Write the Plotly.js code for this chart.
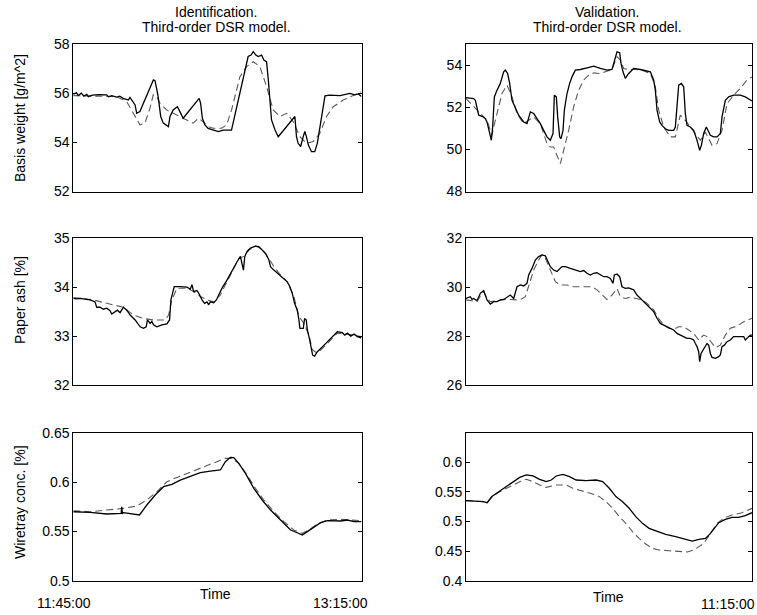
<!DOCTYPE html>
<html>
<head>
<meta charset="utf-8">
<script src="https://cdn.plot.ly/plotly-3.0.1.min.js"></script>
<style>
  html, body { margin: 0; padding: 0; background: #fff; }
  #chart { width: 757px; height: 615px; }
</style>
</head>
<body>
<div id="chart"></div>
<script>
// ---------- Titles and labels ----------
const columnTitles = [["Identification.", "Third-order DSR model."], ["Validation.", "Third-order DSR model."]];
const rowLabels = ["Basis weight [g/m^2]", "Paper ash [%]", "Wiretray conc. [%]"];
const xAxisLabel = "Time";
const idTimeTickLabels = ["11:45:00", "13:15:00"];
const valTimeTickLabels = ["11:15:00"];

// ---------- Y ticks ----------
const bwIdTicks = [52, 54, 56, 58];
const bwValTicks = [48, 50, 52, 54];
const ashIdTicks = [32, 33, 34, 35];
const ashValTicks = [26, 28, 30, 32];
const wtIdTicks = [0.5, 0.55, 0.6, 0.65];
const wtValTicks = [0.4, 0.45, 0.5, 0.55, 0.6];

// ---------- Identification: basis weight (time in minutes from start) ----------
const idBwMeasT = [0,1,1.5,2.5,3.3,4.2,4.7,6,8,10.4,11,12,13.5,14.5,15.6,16.4,17.2,17.7,18.7,19.3,19.8,20.8,25.0,25.5,26.0,26.5,27.3,28.1,29.7,30.2,31.2,31.7,32.5,33.3,34.3,39.3,39.75,40.3,41.1,42.1,43.7,45.3,46.8,49.4,54.6,55.5,56.2,57.0,57.75,58.8,59.5,60.35,60.9,61.4,61.9,63.0,64.0,69.2,69.7,70.2,71.0,71.8,72.3,72.8,73.4,74.4,75.4,76.2,77.0,77.8,78.6,80,83.3,85,86.4,87.9,89,90];
const idBwMeas = [55.95,56.02,55.9,56.0,55.88,55.95,55.86,55.92,55.94,55.93,55.85,55.9,55.84,55.88,55.79,55.74,55.72,55.83,55.66,55.52,55.18,55.25,56.54,56.51,56.2,55.86,55.05,54.78,54.64,55.05,55.32,55.38,55.45,55.25,54.98,55.79,55.59,54.98,54.71,54.57,54.5,54.44,54.5,54.5,57.49,57.55,57.69,57.55,57.49,57.55,57.35,57.28,56.54,55.86,54.91,54.5,54.23,55.05,54.23,53.96,53.83,54.23,54.44,54.23,53.89,53.62,53.62,53.96,54.64,55.32,55.89,55.92,55.9,55.95,55.99,55.93,55.97,55.86];
const idBwModT = [0,13.53,16.65,18.21,19.77,20.81,22.37,23.93,24.97,26.01,27.06,29.14,31.22,33.30,35.38,37.46,39.02,40.58,42.14,43.70,46.31,47.87,49.43,52.03,54.11,56.19,58.27,60.35,62.43,64.52,66.60,68.68,70.76,72.84,74.92,77.00,79.08,81.17,84.29,87.41,90];
const idBwMod = [55.90,55.86,55.66,55.32,54.98,54.71,54.78,55.38,55.93,55.86,55.59,55.32,55.18,55.05,54.91,54.78,54.98,54.84,54.64,54.57,54.57,54.71,55.32,56.67,57.08,57.28,57.08,56.27,55.32,55.05,55.18,54.84,54.23,53.96,54.03,54.37,55.05,55.45,55.72,55.90,56.06];

// ---------- Validation: basis weight ----------
const valBwMeasT = [0,0.84,2.41,2.94,3.46,3.99,5.04,6.08,6.61,7.13,7.66,7.97,8.39,8.92,9.55,10.28,10.80,11.85,12.38,13.11,13.74,14.48,15.52,16.57,18.14,19.20,20.25,21.30,22.34,23.39,24.44,25.49,26.54,27.38,27.80,28.43,28.85,29.48,29.90,30.53,30.95,31.79,32.62,33.36,34.41,35.98,38.08,40.18,42.27,44.37,45.94,46.68,47.52,48.36,48.78,49.41,50.14,51.19,52.76,54.86,56.96,58.01,59.06,59.58,60.11,60.95,61.68,62.73,63.78,65.35,65.88,66.40,66.93,67.77,68.50,69.02,69.55,70.60,71.65,72.70,73.54,74.06,74.79,75.63,76.16,76.89,77.94,78.99,80.04,80.56,81.61,82.66,84.23,86.33,87.90,89.48,90];
const valBwMeas = [52.46,52.44,52.41,52.33,51.94,51.62,51.57,51.46,51.30,50.98,50.67,50.43,51.06,52.49,52.73,52.97,53.13,53.68,53.76,53.60,53.13,52.33,51.94,51.62,51.30,51.22,51.78,51.70,51.46,51.22,50.90,50.59,50.43,50.75,52.57,52.49,51.54,50.59,50.51,50.90,51.86,52.65,53.13,53.44,53.76,53.79,53.87,53.95,53.84,53.76,53.79,54.16,54.63,54.59,54.08,53.68,53.37,53.60,53.84,53.79,53.73,53.68,53.29,52.81,51.86,51.30,51.14,50.98,50.90,50.90,51.06,51.97,53.05,53.13,52.97,51.70,51.14,51.06,50.90,50.43,49.95,50.19,50.75,51.06,50.90,50.67,50.59,50.59,50.75,51.54,52.33,52.49,52.57,52.57,52.49,52.33,52.30];
const valBwModT = [0,3.46,5.04,6.61,7.66,8.18,8.71,9.76,11.33,12.90,14.48,16.05,18.14,19.72,21.30,23.39,25.49,26.54,27.59,28.64,29.69,30.74,32.31,33.88,35.46,37.03,38.60,40.18,41.75,43.85,45.94,47.52,48.57,49.62,51.19,53.29,55.39,58.01,59.58,60.63,62.21,64.30,65.88,67.45,69.02,70.60,72.17,73.74,75.32,77.42,78.99,80.56,82.14,84.23,86.33,88.43,90];
const valBwMod = [52.41,51.86,51.62,51.38,50.90,50.67,51.06,51.70,52.65,53.05,52.49,51.70,51.22,51.38,51.54,51.22,50.27,50.11,50.11,49.71,49.32,49.95,50.90,52.02,52.81,53.29,53.52,53.63,53.60,53.68,53.79,54.40,54.24,53.84,53.79,53.79,53.76,53.60,52.97,51.86,51.06,50.59,50.59,51.62,51.38,51.06,50.75,50.43,50.83,50.19,50.27,50.90,52.17,52.57,52.89,53.29,53.44];

// ---------- Identification: paper ash ----------
const idAshMeasT = [0,1.04,2.09,5.22,6.78,7.31,8.35,9.39,10.44,11.48,12.00,13.05,13.78,14.61,15.66,16.70,17.75,19.31,20.88,21.92,22.76,23.17,24.01,24.53,25.05,26.10,27.66,29.23,30.06,30.48,31.00,31.52,33.40,35.49,36.53,37.06,37.58,38.62,39.14,40.19,41.02,41.75,42.28,42.80,43.84,44.68,45.41,46.45,48.02,49.58,51.15,52.19,52.61,53.13,53.55,54.28,55.32,56.89,57.93,58.98,60.02,61.06,61.59,62.63,64.20,65.76,66.81,67.64,68.37,69.10,69.94,70.46,70.77,71.82,72.23,72.76,73.07,73.70,74.32,74.74,75.37,76.20,77.77,79.85,81.94,82.46,84.03,84.76,85.59,86.64,87.68,88.73,90];
const idAshMeas = [33.77,33.76,33.77,33.74,33.70,33.59,33.59,33.55,33.57,33.52,33.45,33.50,33.53,33.48,33.59,33.53,33.43,33.33,33.19,33.16,33.19,33.33,33.26,33.30,33.23,33.19,33.23,33.25,33.33,33.74,33.88,34.01,34.01,34.00,33.96,34.05,33.91,33.93,33.88,33.74,33.67,33.70,33.64,33.70,33.68,33.74,33.84,33.98,34.15,34.35,34.52,34.63,34.49,34.35,34.63,34.73,34.80,34.84,34.83,34.76,34.69,34.56,34.42,34.35,34.26,34.18,34.11,34.01,33.88,33.67,33.53,33.33,33.16,33.16,33.36,33.33,33.13,32.96,32.75,32.61,32.59,32.68,32.78,32.92,33.06,33.09,33.07,33.02,33.06,33.00,33.04,32.99,32.96];
const idAshModT = [0,6.26,10.44,15.66,18.79,21.92,25.05,28.71,29.75,30.79,32.36,35.49,37.58,39.67,41.75,43.84,45.93,48.02,50.10,51.67,53.24,54.80,56.89,58.98,61.06,62.63,64.72,66.81,68.89,70.46,72.03,73.59,74.63,76.20,78.29,80.38,82.46,85.59,90];
const idAshMod = [33.79,33.74,33.67,33.59,33.43,33.36,33.33,33.33,33.43,33.74,33.98,33.98,33.91,33.81,33.74,33.70,33.84,34.11,34.39,34.59,34.63,34.76,34.84,34.78,34.59,34.42,34.25,34.11,33.81,33.40,33.26,33.02,32.72,32.65,32.78,32.92,33.06,33.04,32.99];

// ---------- Validation: paper ash ----------
const valAshMeasT = [0,1.36,1.89,2.41,3.46,3.99,4.51,5.56,6.08,6.61,7.66,8.71,9.76,10.80,11.85,12.90,13.95,15.00,16.05,17.10,18.15,19.20,19.72,20.77,21.82,22.87,23.92,24.97,25.49,26.54,27.59,28.64,30.21,31.26,32.83,34.93,35.98,37.03,38.08,39.13,40.18,41.22,42.27,43.32,44.37,45.42,46.26,46.68,47.52,48.36,49.09,50.14,51.19,52.76,53.81,54.86,55.91,56.96,58.01,59.06,60.11,61.16,62.21,63.25,64.30,65.35,66.40,67.45,68.50,69.55,70.60,71.65,72.17,72.70,73.22,73.54,73.96,74.59,75.32,75.84,76.37,76.89,77.42,78.46,79.51,80.04,80.56,81.30,82.14,83.18,84.23,85.28,86.33,87.38,87.90,88.43,89.48,90];
const valAshMeas = [29.54,29.61,29.50,29.54,29.45,29.61,29.75,29.86,29.68,29.48,29.31,29.41,29.41,29.48,29.50,29.59,29.68,29.54,30.02,30.09,30.05,30.16,30.50,30.77,31.11,31.25,31.32,31.28,31.11,30.84,30.70,30.64,30.84,30.84,30.77,30.70,30.64,30.68,30.57,30.50,30.57,30.59,30.50,30.43,30.43,30.36,30.16,30.50,30.54,30.43,30.02,29.95,29.97,29.89,29.68,29.54,29.41,29.27,29.13,29.00,28.73,28.52,28.45,28.38,28.32,28.25,28.11,28.04,27.98,27.91,27.91,27.84,27.70,27.57,27.36,26.95,27.29,27.43,27.57,27.70,27.63,27.29,27.13,27.09,27.16,27.23,27.57,27.63,27.77,27.84,27.98,27.98,27.95,27.98,27.84,27.91,28.04,28.04];
const valAshModT = [0,3.46,4.51,5.56,6.61,7.66,9.76,12.90,16.05,17.62,18.67,19.72,21.29,22.87,23.92,24.97,26.54,28.11,29.69,31.78,33.88,35.98,38.08,39.65,41.22,42.80,44.37,45.95,47.52,48.57,50.14,51.72,53.81,55.39,56.96,59.06,60.63,62.21,63.78,65.35,66.93,68.50,70.07,71.65,73.22,74.79,75.84,77.42,78.46,80.04,81.61,83.18,85.28,87.38,90];
const valAshMod = [29.48,29.41,29.64,29.82,29.54,29.41,29.45,29.50,29.48,29.53,29.61,30.09,30.70,31.11,31.32,31.18,30.70,30.23,30.09,30.09,30.02,30.02,29.99,30.02,29.89,29.68,29.50,29.68,29.95,29.61,29.54,29.59,29.54,29.48,29.34,29.07,28.73,28.45,28.32,28.28,28.38,28.38,28.25,28.11,27.84,28.04,27.98,27.73,27.53,27.63,28.04,28.32,28.41,28.59,28.73];

// ---------- Identification: wiretray consistency ----------
const idWtMeasT = [0,5.22,10.44,14.61,14.93,15.14,15.34,15.66,17.75,20.67,22.96,25.57,28.18,30.79,33.40,36.53,39.67,42.80,45.93,47.49,49.06,50.10,51.67,53.76,56.37,58.98,61.59,64.72,67.85,69.94,71.50,73.07,75.16,77.24,79.33,81.42,83.51,85.59,87.68,90];
const idWtMeas = [0.5699,0.5693,0.5676,0.5682,0.5682,0.5750,0.5682,0.5689,0.5682,0.5666,0.5767,0.5868,0.5953,0.5976,0.6020,0.6061,0.6095,0.6111,0.6122,0.6206,0.6250,0.6247,0.6189,0.6088,0.5936,0.5818,0.5716,0.5615,0.5514,0.5486,0.5463,0.5497,0.5547,0.5588,0.5608,0.5608,0.5605,0.5615,0.5598,0.5598];
const idWtModT = [0,5.22,10.44,15.66,19.83,22.96,26.10,29.23,32.36,35.49,38.62,41.75,44.89,47.49,49.58,51.67,54.28,56.89,59.50,62.63,65.76,68.89,71.50,73.59,76.20,79.33,83.51,87.68,90];
const idWtMod = [0.5709,0.5699,0.5716,0.5733,0.5757,0.5818,0.5902,0.6003,0.6047,0.6088,0.6122,0.6162,0.6206,0.6240,0.6240,0.6189,0.6071,0.5936,0.5818,0.5699,0.5598,0.5514,0.5480,0.5514,0.5574,0.5615,0.5622,0.5615,0.5608];

// ---------- Validation: wiretray consistency ----------
const valWtMeasT = [0,3.34,5.43,6.68,8.04,10.65,12.73,14.82,16.91,19.00,21.09,23.17,25.26,26.83,28.39,30.48,32.57,34.66,37.79,40.92,43.01,45.09,47.18,49.27,51.36,53.44,55.53,57.62,59.71,62.84,65.97,69.10,71.19,73.28,75.37,76.93,78.50,79.54,81.63,83.72,85.80,87.89,90];
const valWtMeas = [0.5352,0.5346,0.5335,0.5318,0.5420,0.5515,0.5589,0.5673,0.5746,0.5786,0.5769,0.5713,0.5673,0.5701,0.5769,0.5797,0.5758,0.5701,0.5690,0.5701,0.5673,0.5561,0.5420,0.5335,0.5223,0.5082,0.4969,0.4885,0.4839,0.4783,0.4744,0.4699,0.4670,0.4699,0.4715,0.4800,0.4913,0.4980,0.5037,0.5070,0.5070,0.5099,0.5149];
const valWtModT = [0,5.43,6.68,8.56,10.65,13.78,16.91,19.00,21.09,23.17,25.26,28.39,31.52,33.61,36.74,39.87,41.96,44.05,46.14,48.23,50.31,52.40,54.49,56.58,58.66,60.75,63.88,67.01,69.62,71.71,73.28,74.84,76.93,79.02,81.11,83.72,86.85,90];
const valWtMod = [0.5352,0.5335,0.5318,0.5431,0.5504,0.5589,0.5673,0.5713,0.5673,0.5617,0.5577,0.5617,0.5617,0.5561,0.5515,0.5465,0.5420,0.5335,0.5223,0.5082,0.4969,0.4828,0.4715,0.4620,0.4546,0.4518,0.4507,0.4490,0.4485,0.4518,0.4575,0.4631,0.4800,0.4969,0.5054,0.5110,0.5149,0.5223];

// ---------- Build ----------
const FONT = "Liberation Sans, Arial, Helvetica, sans-serif";
const W = 757, H = 615;
function measTrace(x, y, ax) {
  return {x: x, y: y, xaxis: 'x' + ax, yaxis: 'y' + ax, type: 'scatter', mode: 'lines',
    line: {color: '#000', width: 1.3}, hoverinfo: 'skip', showlegend: false};
}
function modTrace(x, y, ax) {
  return {x: x, y: y, xaxis: 'x' + ax, yaxis: 'y' + ax, type: 'scatter', mode: 'lines',
    line: {color: '#5a5a5a', width: 1.1, dash: '7px,4px'}, hoverinfo: 'skip', showlegend: false};
}
const traces = [
  modTrace(idBwModT, idBwMod, ''), measTrace(idBwMeasT, idBwMeas, ''),
  modTrace(valBwModT, valBwMod, '2'), measTrace(valBwMeasT, valBwMeas, '2'),
  modTrace(idAshModT, idAshMod, '3'), measTrace(idAshMeasT, idAshMeas, '3'),
  modTrace(valAshModT, valAshMod, '4'), measTrace(valAshMeasT, valAshMeas, '4'),
  modTrace(idWtModT, idWtMod, '5'), measTrace(idWtMeasT, idWtMeas, '5'),
  modTrace(valWtModT, valWtMod, '6'), measTrace(valWtMeasT, valWtMeas, '6')
];

// pixel boxes of the six frames
const colX = [[73.3, 361.5], [466, 752]];
const rowY = [[44, 191.5], [238.3, 385], [432.7, 580.7]];
const xDom = c => [colX[c][0] / W, colX[c][1] / W];
const yDom = r => [1 - rowY[r][1] / H, 1 - rowY[r][0] / H];

function xAxis(c, r) {
  return {domain: xDom(c), anchor: null, range: [0, 90], showticklabels: false, ticks: '',
    showline: true, mirror: true, linecolor: '#000', linewidth: 1, showgrid: false, zeroline: false, fixedrange: true};
}
function yAxis(c, r, range, ticks) {
  return {domain: yDom(r), range: range, tickmode: 'array', tickvals: ticks, ticks: 'inside', ticklen: 4,
    tickcolor: '#000', tickwidth: 1, showline: true, mirror: 'ticks', linecolor: '#000', linewidth: 1,
    showgrid: false, zeroline: false, tickfont: {family: FONT, size: 14, color: '#000'}, fixedrange: true};
}
const layout = {
  width: W, height: H, margin: {l: 0, r: 0, t: 0, b: 0}, paper_bgcolor: '#fff', plot_bgcolor: '#fff',
  font: {family: FONT, size: 14, color: '#000'}, showlegend: false,
  xaxis: Object.assign(xAxis(0, 0), {anchor: 'y'}),
  yaxis: Object.assign(yAxis(0, 0, [52, 58], bwIdTicks), {anchor: 'x'}),
  xaxis2: Object.assign(xAxis(1, 0), {anchor: 'y2'}),
  yaxis2: Object.assign(yAxis(1, 0, [48, 55], bwValTicks), {anchor: 'x2'}),
  xaxis3: Object.assign(xAxis(0, 1), {anchor: 'y3'}),
  yaxis3: Object.assign(yAxis(0, 1, [32, 35], ashIdTicks), {anchor: 'x3'}),
  xaxis4: Object.assign(xAxis(1, 1), {anchor: 'y4'}),
  yaxis4: Object.assign(yAxis(1, 1, [26, 32], ashValTicks), {anchor: 'x4'}),
  xaxis5: Object.assign(xAxis(0, 2), {anchor: 'y5'}),
  yaxis5: Object.assign(yAxis(0, 2, [0.5, 0.65], wtIdTicks), {anchor: 'x5'}),
  xaxis6: Object.assign(xAxis(1, 2), {anchor: 'y6'}),
  yaxis6: Object.assign(yAxis(1, 2, [0.4, 0.65], wtValTicks), {anchor: 'x6'}),
  annotations: []
};
function note(text, px, py, angle) {
  layout.annotations.push({text: text, xref: 'paper', yref: 'paper', x: px / W, y: 1 - py / H,
    xanchor: 'center', yanchor: 'middle', showarrow: false, textangle: angle || 0,
    font: {family: FONT, size: 14, color: '#000'}});
}
// column titles
note(columnTitles[0][0], 216, 12.5); note(columnTitles[0][1], 216, 27);
note(columnTitles[1][0], 607, 12.5); note(columnTitles[1][1], 607, 27);
// row labels
note(rowLabels[0], 20, 118, -90);
note(rowLabels[1], 20, 300, -90);
note(rowLabels[2], 20, 502, -90);
// x labels
note(xAxisLabel, 215, 594); note(xAxisLabel, 608, 597);
note(idTimeTickLabels[0], 64, 603); note(idTimeTickLabels[1], 340, 603);
note(valTimeTickLabels[0], 728, 604);

Plotly.newPlot('chart', traces, layout, {staticPlot: true, displayModeBar: false});
</script>
</body>
</html>
